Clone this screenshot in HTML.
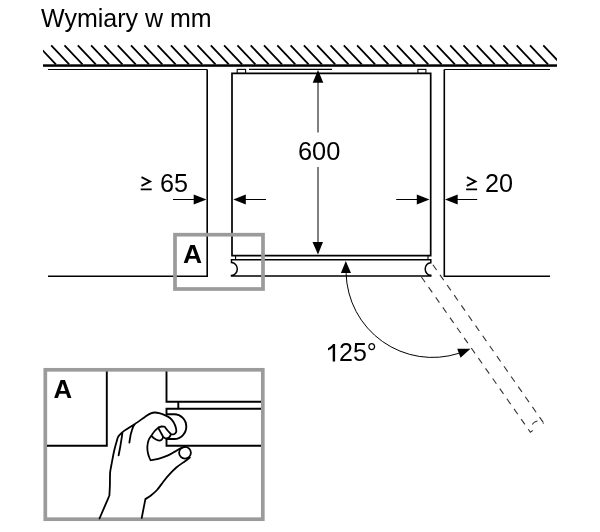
<!DOCTYPE html>
<html><head><meta charset="utf-8"><style>
html,body{margin:0;padding:0;background:#fff;width:600px;height:532px;overflow:hidden}
svg{display:block;filter:grayscale(1)}
</style></head><body>
<svg width="600" height="532" viewBox="0 0 600 532">
<rect x="45.3" y="369.8" width="217.5" height="149.4" fill="none" stroke="#9b9b9b" stroke-width="3.7"/>
<clipPath id="hc"><rect x="43" y="44" width="514" height="21"/></clipPath><path clip-path="url(#hc)" d="M37.9 45.4L55.9 64.4 M51.2 45.4L69.2 64.4 M64.5 45.4L82.5 64.4 M77.8 45.4L95.8 64.4 M91.1 45.4L109.1 64.4 M104.4 45.4L122.4 64.4 M117.7 45.4L135.7 64.4 M131.0 45.4L149.0 64.4 M144.3 45.4L162.3 64.4 M157.6 45.4L175.6 64.4 M170.9 45.4L188.9 64.4 M184.2 45.4L202.2 64.4 M197.5 45.4L215.5 64.4 M210.8 45.4L228.8 64.4 M224.1 45.4L242.1 64.4 M237.4 45.4L255.4 64.4 M250.7 45.4L268.7 64.4 M264.0 45.4L282.0 64.4 M277.3 45.4L295.3 64.4 M290.6 45.4L308.6 64.4 M303.9 45.4L321.9 64.4 M317.2 45.4L335.2 64.4 M330.5 45.4L348.5 64.4 M343.8 45.4L361.8 64.4 M357.1 45.4L375.1 64.4 M370.4 45.4L388.4 64.4 M383.7 45.4L401.7 64.4 M397.0 45.4L415.0 64.4 M410.3 45.4L428.3 64.4 M423.6 45.4L441.6 64.4 M436.9 45.4L454.9 64.4 M450.2 45.4L468.2 64.4 M463.5 45.4L481.5 64.4 M476.8 45.4L494.8 64.4 M490.1 45.4L508.1 64.4 M503.4 45.4L521.4 64.4 M516.7 45.4L534.7 64.4 M530.0 45.4L548.0 64.4 M543.3 45.4L561.3 64.4" stroke="#000" stroke-width="1.8" fill="none"/><rect x="43" y="64.3" width="514" height="2.5" fill="#000"/><g fill="none" stroke="#000" stroke-width="1.6"><path d="M48 69.5H207.2M550 69.5H444.3M249 69.4H332" stroke-width="1.15"/><path d="M207.2 69.5V276.3H48M444.3 69.5V276.3H550"/><path d="M232 255.7V73.4H430.7V255.7Z" stroke-width="1.7"/><rect x="237.2" y="69.4" width="8.4" height="4" stroke-width="1.1"/><rect x="417.9" y="69.4" width="8" height="4" stroke-width="1.1"/><path d="M235.6 255.7V259.8M428 255.7V259.8" stroke-width="1.1"/><path d="M231.5 259.8H430.8V262.8A5.6 6.2 0 0 0 430.8 275.2V276H231.5V275.5A5.8 6.5 0 0 0 231.5 262.5Z" stroke-width="1.5"/></g><g fill="none" stroke="#333" stroke-width="1.1" stroke-dasharray="6.5 5.9"><path d="M421.3 276.8L530.32 432.15L532.53 430.61A5.8 6.5 -125 0 1 543.18 423.15L543.59 422.86" stroke-dashoffset="12.2"/><path d="M431.9 263.3L543.6 422.9" stroke-dashoffset="10.7"/></g><g stroke="#000" stroke-width="1" fill="none"><path d="M318 82V132.5M318 167V243"/><path d="M173 199.5H195M245 199.5H266M396.2 199.5H418M457 199.5H477.2"/><path d="M346.1 273.1A86.4 86.4 0 0 0 458.9 353.3"/></g><g fill="#000"><path d="M318 70L323.3 82.7H312.7Z"/><path d="M318 254.5L323 242H312.5Z"/><path d="M206.5 199.5L193.7 194.6V204.6Z"/><path d="M233.3 199.5L245.8 194.4V204.4Z"/><path d="M429.5 199.5L416.8 194.5V204.5Z"/><path d="M445 199.5L457.7 194.5V204.5Z"/><path d="M345.8 261L351 273H340.9Z"/><path d="M470.5 348.8L457.2 348.8L460.5 357.8Z"/></g><rect x="175" y="234.7" width="88" height="54.3" fill="none" stroke="#9b9b9b" stroke-width="3.7"/><g font-family="'Liberation Sans', sans-serif" fill="#000"><text x="41.1" y="26.5" font-size="25">Wymiary w mm</text><text x="319.1" y="159.8" font-size="25.4" text-anchor="middle">600</text><text x="160" y="191.5" font-size="25.2">65</text><text x="485" y="191.6" font-size="25.2">20</text><text x="339" y="361.2" font-size="25">25°</text><path d="M335.1 344V361.5H332.7V347.6C331.5 348.8 329.8 349.9 328 350.5V348.2C330.3 347.2 332 345.6 333 344Z"/><path d="M141.5 177.2L150 181.5L141.5 185.9M466.9 177.2L475.4 181.5L466.9 185.9" fill="none" stroke="#000" stroke-width="1.9"/><path d="M140.7 188.4h11v1.9h-11zM466.1 188.4h11v1.9h-11z"/><text transform="translate(182.9 262.6) scale(1.06 1)" font-size="25" font-weight="bold">A</text><text transform="translate(53.5 397.8) scale(1.03 1)" font-size="25" font-weight="bold">A</text></g><g fill="none" stroke="#000" stroke-width="1.9"><path d="M47 445.8H106.8V371.5"/><path d="M166.5 371.5V401.8H261M178.3 401.8V408.6"/><path d="M261 408.8H166.5V414.2H174.3A12 12.4 0 0 1 174.3 439H166.5V445.8H261"/></g><g fill="none" stroke="#000" stroke-width="1.8" stroke-linejoin="round" stroke-linecap="round"><path d="M99.5 518.5L107.2 500.6L109.4 495.5 M109.4 495.5 C109.5 493.8 109.8 488.8 109.9 485.0 C110.0 481.2 109.9 476.2 110.1 473.0 C110.3 469.8 110.8 468.6 111.2 466.0 C111.7 463.4 112.3 460.2 112.8 457.5 C113.3 454.8 113.7 452.7 114.4 449.7 C115.1 446.7 116.7 441.1 117.2 439.4 M117.2 439.4 C117.4 438.8 117.7 437.4 118.6 436.1 C119.5 434.9 121.1 433.2 122.8 431.9 C124.5 430.6 126.5 429.4 128.5 428.1 C130.5 426.8 132.2 425.8 135.0 423.9 C137.8 422.0 142.4 418.7 145.0 416.9 C147.6 415.1 149.1 414.0 150.8 413.3 C152.5 412.6 153.6 412.5 155.0 412.5 C156.4 412.5 157.4 412.7 159.2 413.2 C161.0 413.7 164.0 414.8 165.8 415.6 C167.7 416.4 169.0 417.1 170.3 418.2 C171.6 419.3 172.7 420.7 173.6 422.3 C174.5 423.9 175.4 426.1 175.8 427.6 C176.2 429.1 176.4 430.4 176.3 431.4 C176.2 432.4 175.6 433.1 175.0 433.6 C174.4 434.1 173.7 434.3 173.0 434.4 C172.3 434.5 171.3 434.2 171.0 434.1 M171.0 434.1 C170.5 433.6 169.1 432.2 168.0 431.0 C166.9 429.8 165.2 427.5 164.7 426.8 M164.7 426.8 C164.2 426.8 162.6 426.4 161.6 426.5 C160.6 426.6 159.2 427.2 158.7 427.3 M158.7 427.3 C158.0 427.9 155.9 429.6 154.7 431.0 C153.5 432.4 152.3 434.2 151.3 435.7 C150.3 437.2 149.3 438.1 148.7 439.8 C148.0 441.5 147.6 443.9 147.4 446.0 C147.2 448.1 147.5 450.6 147.8 452.4 C148.1 454.2 148.6 455.7 149.1 457.0 C149.6 458.3 150.3 459.7 150.6 460.2 M150.6 460.2 C151.9 460.0 155.5 459.7 158.3 458.9 C161.1 458.1 164.7 456.8 167.5 455.6 C170.3 454.4 172.8 452.8 174.9 451.6 C177.1 450.4 178.7 449.2 180.4 448.4 C182.1 447.6 184.2 447.1 185.0 446.8 M151.3 435.7 C151.8 436.1 152.8 437.4 154.0 438.2 C155.2 439.0 157.0 440.1 158.3 440.4 C159.6 440.7 160.8 440.4 161.6 439.8 C162.4 439.2 162.8 437.5 163.1 437.0 M158.3 428.0 C158.7 428.7 159.9 430.8 160.7 432.3 C161.5 433.8 162.8 436.2 163.2 437.0 M163.2 437.0 C163.7 437.2 165.0 438.4 166.0 438.5 C167.0 438.6 168.5 438.0 169.3 437.3 C170.1 436.6 170.7 434.7 171.0 434.2 M189.8 457.6 C189.0 458.2 187.2 459.6 185.0 461.2 C182.8 462.8 179.2 465.1 176.6 467.3 C174.0 469.6 171.4 472.2 169.2 474.7 C166.9 477.1 165.1 479.4 163.1 482.0 C161.1 484.6 159.0 487.8 157.0 490.0 C155.0 492.2 152.8 494.0 150.9 495.5 C149.0 497.0 146.3 498.5 145.4 499.1 M145.4 499.1L141.7 518 M118.6 455.4 C118.9 454.0 119.8 449.2 120.2 447.0 C120.6 444.8 120.6 444.6 121.0 442.2 C121.4 439.8 122.2 434.4 122.4 432.8 M129.4 442.7 C129.5 441.8 129.9 439.0 130.2 437.5 C130.4 436.0 130.4 435.6 130.9 433.8 C131.4 432.0 132.5 428.4 133.2 426.7 C133.9 425.0 134.7 424.4 135.0 423.9"/><circle cx="185" cy="452.7" r="5.9"/></g>
</svg>
</body></html>
